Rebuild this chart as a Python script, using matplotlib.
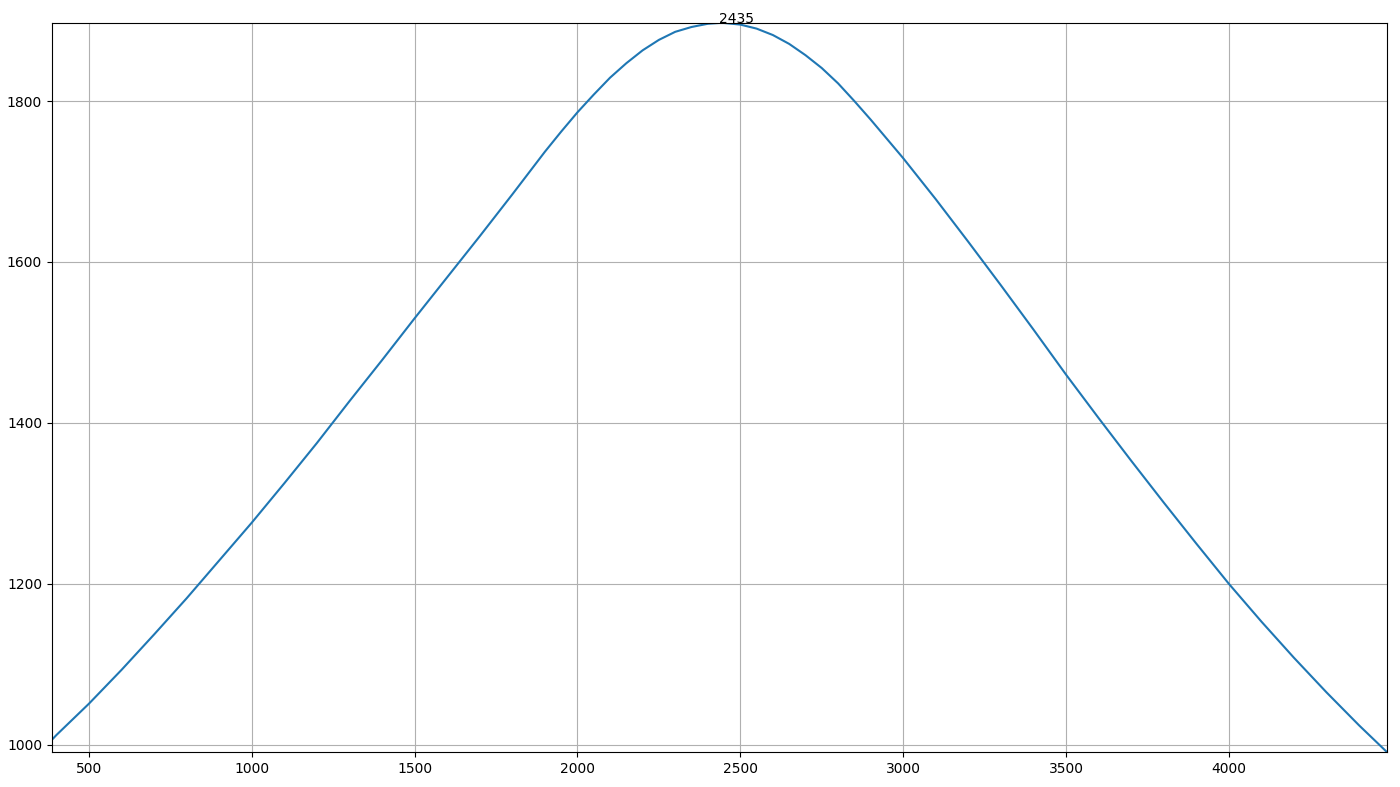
import matplotlib
matplotlib.use("Agg")
import matplotlib.pyplot as plt

# values (denser around the peak)
x_vals = [386, 400, 500, 600, 700, 800, 900, 1000, 1100, 1200, 1300, 1400,
          1500, 1600, 1700, 1800, 1900, 1950, 2000, 2050, 2100, 2150, 2200,
          2250, 2300, 2350, 2400, 2435, 2450, 2500, 2550, 2600, 2650, 2700,
          2750, 2800, 2850, 2900, 2950, 3000, 3100, 3200, 3300, 3400, 3500,
          3600, 3700, 3800, 3900, 4000, 4100, 4200, 4300, 4400, 4485]
y_vals = [1006, 1012, 1051, 1093, 1137, 1182, 1229, 1276, 1325, 1375, 1427, 1478,
          1530, 1581, 1632, 1684, 1737, 1762, 1786, 1808, 1829, 1847, 1863,
          1876, 1886, 1892, 1896, 1897, 1897, 1895, 1890, 1882, 1871, 1857,
          1841, 1822, 1800, 1777, 1753, 1729, 1678, 1625, 1571, 1516, 1460,
          1406, 1353, 1301, 1250, 1200, 1153, 1108, 1065, 1024, 991]
peak_x = 2435
peak_label = "2435"

fig = plt.figure(figsize=(14, 7.87), dpi=100)
ax = fig.add_axes([0.037, 0.0445, 0.9536, 0.9263])
ax.plot(x_vals, y_vals, color="#1f77b4", lw=1.5)
ax.text(peak_x, max(y_vals), peak_label, fontsize=10)
ax.margins(0)
ax.grid(True)
fig.savefig("out.png", dpi=100)
